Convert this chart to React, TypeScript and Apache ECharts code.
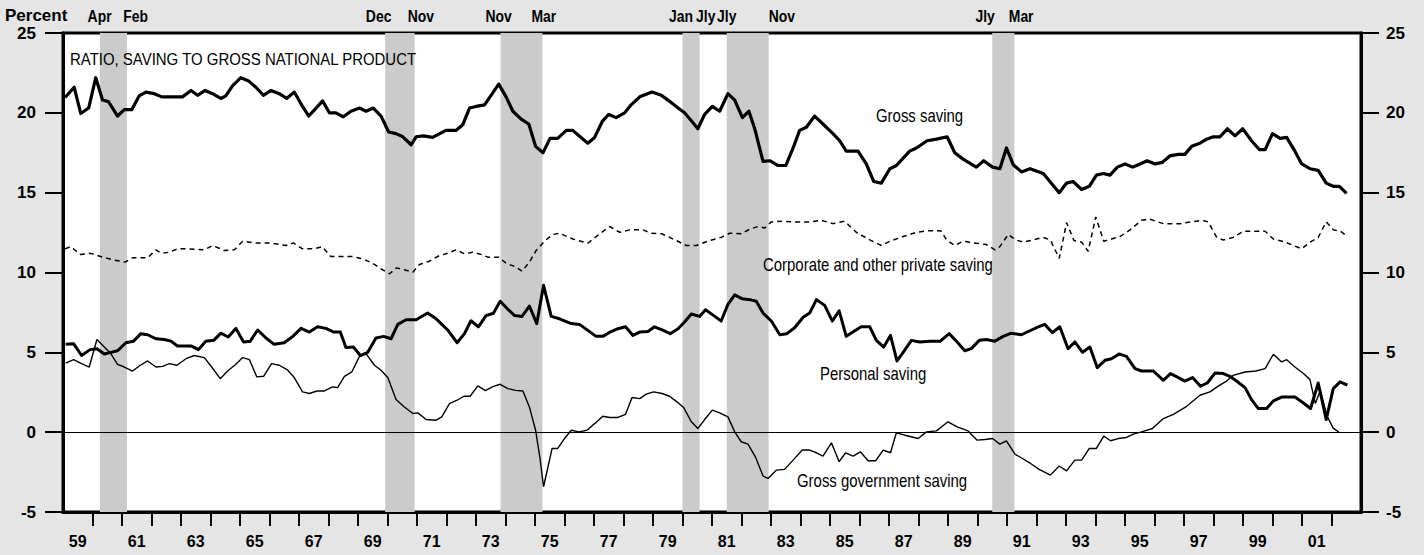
import React, { useEffect, useRef } from "react";
import * as echarts from "echarts";

// ---------- Data ----------
const grossYears = [1959.07,1959.38,1959.6,1959.87,1960.11,1960.34,1960.54,1960.85,1961.08,1961.33,1961.58,1961.81,1962.09,1962.35,1962.6,1963.05,1963.34,1963.56,1963.82,1964.07,1964.35,1964.52,1964.75,1965.03,1965.29,1965.54,1965.79,1966.05,1966.33,1966.58,1966.84,1967.12,1967.33,1967.58,1967.8,1968.03,1968.25,1968.5,1968.76,1969.05,1969.27,1969.52,1969.78,1970.04,1970.29,1970.52,1970.8,1970.97,1971.22,1971.53,1971.98,1972.32,1972.55,1972.78,1973.0,1973.29,1973.77,1974.02,1974.25,1974.53,1974.79,1975.02,1975.27,1975.51,1975.77,1976.06,1976.28,1976.53,1976.79,1977.02,1977.28,1977.5,1977.75,1978.04,1978.26,1978.55,1978.97,1979.28,1979.54,1979.85,1980.07,1980.3,1980.52,1980.75,1981.01,1981.26,1981.54,1981.77,1982.03,1982.25,1982.45,1982.73,1982.96,1983.24,1983.5,1983.75,1983.97,1984.2,1984.48,1984.76,1985.1,1985.33,1985.55,1985.95,1986.23,1986.48,1986.74,1987.03,1987.25,1987.7,1987.93,1988.29,1988.61,1988.97,1989.23,1989.51,1989.96,1990.21,1990.51,1990.76,1990.98,1991.21,1991.49,1991.78,1992.23,1992.77,1993.02,1993.24,1993.53,1993.79,1994.03,1994.26,1994.49,1994.74,1995.0,1995.26,1995.51,1995.75,1996.02,1996.27,1996.52,1996.81,1997.03,1997.26,1997.54,1997.77,1997.99,1998.22,1998.47,1998.73,1998.99,1999.29,1999.55,1999.75,2000.0,2000.26,2000.48,2000.76,2000.99,2001.27,2001.55,2001.82,2002.06,2002.27,2002.51];
const grossValues = [20.96,21.6,19.96,20.3,22.2,20.8,20.7,19.8,20.2,20.2,21.06,21.3,21.2,21.0,21.0,21.0,21.4,21.1,21.4,21.2,20.9,21.06,21.7,22.2,22.0,21.6,21.1,21.4,21.2,20.9,21.3,20.4,19.8,20.3,20.75,20.0,20.0,19.75,20.1,20.3,20.1,20.3,19.8,18.8,18.7,18.5,18.0,18.5,18.56,18.46,18.9,18.9,19.25,20.3,20.4,20.5,21.8,21.0,20.1,19.6,19.3,17.9,17.5,18.4,18.4,18.9,18.9,18.5,18.1,18.46,19.46,19.9,19.7,20.0,20.5,21.0,21.3,21.1,20.75,20.3,20.0,19.5,19.0,19.9,20.4,20.1,21.2,20.8,19.7,20.1,19.0,16.96,17.0,16.7,16.7,17.8,18.9,19.1,19.8,19.3,18.7,18.25,17.6,17.6,16.8,15.7,15.6,16.5,16.7,17.6,17.8,18.25,18.35,18.5,17.5,17.1,16.6,17.0,16.6,16.5,17.8,16.75,16.3,16.5,16.2,15.0,15.6,15.7,15.2,15.4,16.1,16.2,16.1,16.6,16.8,16.6,16.8,17.0,16.8,16.9,17.3,17.4,17.4,17.9,18.1,18.35,18.5,18.5,19.0,18.56,19.0,18.25,17.7,17.7,18.7,18.4,18.46,17.6,16.8,16.5,16.4,15.6,15.4,15.4,14.96];

const corpYears = [1959.07,1959.26,1959.6,1959.94,1960.34,1960.68,1961.11,1961.36,1961.87,1962.15,1962.35,1962.6,1962.88,1963.28,1963.79,1964.07,1964.47,1964.81,1965.09,1965.54,1966.0,1966.56,1966.81,1967.12,1967.52,1967.78,1968.08,1968.37,1968.82,1969.16,1969.5,1969.78,1970.07,1970.31,1970.57,1970.86,1971.08,1971.42,1971.76,1972.04,1972.32,1972.61,1972.89,1973.23,1973.4,1973.77,1974.02,1974.31,1974.56,1974.81,1975.04,1975.32,1975.6,1975.83,1976.28,1976.79,1977.19,1977.53,1977.87,1978.21,1978.66,1978.94,1979.31,1979.79,1980.13,1980.47,1980.92,1981.31,1981.6,1981.99,1982.3,1982.56,1982.79,1983.01,1983.41,1983.75,1984.31,1984.7,1985.1,1985.5,1985.89,1986.35,1986.74,1987.03,1987.48,1987.93,1988.38,1988.77,1988.95,1989.23,1989.51,1989.96,1990.3,1990.59,1990.76,1991.04,1991.3,1991.55,1991.89,1992.23,1992.47,1992.77,1993.02,1993.27,1993.53,1993.75,1994.01,1994.28,1994.54,1994.83,1995.17,1995.56,1995.85,1996.3,1996.86,1997.26,1997.6,1997.82,1998.11,1998.33,1998.67,1999.01,1999.75,2000.03,2000.43,2000.71,2000.99,2001.27,2001.55,2001.82,2002.06,2002.31,2002.51];
const corpValues = [11.48,11.62,11.12,11.2,10.96,10.8,10.65,10.92,10.92,11.42,11.2,11.27,11.48,11.48,11.42,11.69,11.38,11.42,11.96,11.85,11.85,11.69,11.85,11.48,11.48,11.62,11.0,11.0,11.0,10.85,10.58,10.23,9.92,10.29,10.17,10.02,10.5,10.71,11.06,11.2,11.42,11.17,11.27,11.1,10.96,10.96,10.58,10.38,10.08,10.65,11.38,11.96,12.38,12.46,12.1,11.83,12.42,12.88,12.52,12.67,12.67,12.46,12.42,12.0,11.69,11.69,12.0,12.2,12.46,12.42,12.73,12.88,12.79,13.17,13.21,13.17,13.17,13.27,13.06,13.21,12.52,12.04,11.69,11.96,12.25,12.52,12.62,12.6,12.04,11.69,11.96,11.83,11.75,11.42,11.62,12.38,12.04,11.9,12.04,12.2,12.04,10.88,13.12,12.0,11.9,11.33,13.48,11.96,12.1,12.25,12.67,13.27,13.33,13.06,13.06,13.17,13.27,13.17,12.2,12.04,12.2,12.58,12.58,12.1,11.9,11.69,11.48,11.9,12.2,13.17,12.67,12.58,12.31];

const personalYears = [1959.09,1959.36,1959.63,1959.92,1960.15,1960.4,1960.62,1960.85,1961.13,1961.39,1961.64,1961.87,1962.15,1962.43,1962.66,1962.88,1963.34,1963.59,1963.84,1964.11,1964.35,1964.6,1964.86,1965.12,1965.35,1965.6,1965.88,1966.16,1966.5,1966.79,1967.07,1967.35,1967.63,1967.91,1968.18,1968.4,1968.59,1968.85,1969.08,1969.33,1969.61,1969.87,1970.12,1970.35,1970.63,1970.97,1971.36,1971.65,1972.04,1972.36,1972.61,1972.83,1973.08,1973.34,1973.59,1973.82,1974.08,1974.31,1974.56,1974.81,1975.06,1975.29,1975.55,1975.83,1976.23,1976.51,1977.07,1977.3,1977.58,1977.81,1978.07,1978.32,1978.55,1978.83,1979.05,1979.31,1979.58,1979.85,1980.07,1980.3,1980.58,1980.78,1981.06,1981.31,1981.54,1981.77,1982.03,1982.28,1982.5,1982.73,1983.01,1983.3,1983.54,1983.8,1984.09,1984.31,1984.54,1984.82,1985.08,1985.31,1985.55,1985.8,1986.06,1986.35,1986.57,1986.82,1987.05,1987.27,1987.48,1987.76,1988.04,1988.38,1988.74,1989.04,1989.31,1989.57,1989.79,1990.06,1990.3,1990.59,1990.87,1991.15,1991.49,1991.83,1992.06,1992.28,1992.54,1992.79,1993.07,1993.3,1993.56,1993.81,1994.06,1994.32,1994.54,1994.8,1995.05,1995.34,1995.56,1995.96,1996.3,1996.54,1996.81,1997.03,1997.29,1997.56,1997.79,1998.05,1998.33,1998.56,1998.78,1999.07,1999.29,1999.52,1999.8,2000.03,2000.31,2000.76,2001.05,2001.29,2001.55,2001.82,2002.06,2002.29,2002.54];
const personalValues = [5.5,5.54,4.8,5.17,5.23,4.9,5.0,5.1,5.6,5.7,6.17,6.1,5.85,5.8,5.7,5.4,5.4,5.17,5.7,5.75,6.2,5.96,6.5,5.65,5.7,6.4,5.9,5.5,5.6,6.0,6.5,6.27,6.6,6.5,6.27,6.27,5.3,5.33,4.8,5.0,5.9,6.0,5.85,6.75,7.04,7.04,7.46,7.1,6.4,5.6,6.17,6.98,6.6,7.3,7.45,8.2,7.7,7.3,7.25,7.9,6.8,9.2,7.25,7.1,6.8,6.75,6.0,6.0,6.3,6.48,6.6,6.06,6.27,6.3,6.6,6.4,6.17,6.48,6.9,7.4,7.25,7.67,7.3,6.96,8.0,8.6,8.35,8.3,8.2,7.46,6.96,6.1,6.17,6.54,7.2,7.46,8.3,7.94,6.96,7.6,6.0,6.3,6.6,6.6,5.75,5.33,6.06,4.46,5.0,5.75,5.65,5.7,5.7,6.17,5.65,5.1,5.23,5.75,5.8,5.7,6.0,6.2,6.1,6.4,6.6,6.75,6.23,6.6,5.23,5.65,5.0,5.33,4.04,4.5,4.6,4.9,4.75,3.98,3.83,3.83,3.25,3.67,3.42,3.2,3.42,2.88,3.08,3.7,3.67,3.5,3.2,2.79,2.04,1.48,1.48,1.96,2.2,2.2,1.83,1.48,3.08,0.79,2.73,3.15,2.94];

const govYears = [1959.09,1959.36,1959.63,1959.89,1960.15,1960.4,1960.62,1960.85,1961.08,1961.36,1961.62,1961.87,1962.15,1962.38,1962.6,1962.86,1963.17,1963.45,1963.79,1964.04,1964.33,1964.58,1964.86,1965.09,1965.32,1965.57,1965.8,1966.07,1966.33,1966.62,1966.84,1967.12,1967.35,1967.61,1967.86,1968.14,1968.31,1968.54,1968.79,1969.05,1969.27,1969.56,1969.78,1970.01,1970.29,1970.57,1970.86,1971.03,1971.31,1971.65,1971.84,1972.1,1972.36,1972.59,1972.8,1973.06,1973.32,1973.57,1973.82,1974.08,1974.34,1974.59,1974.81,1975.02,1975.17,1975.29,1975.58,1975.77,1976.0,1976.23,1976.49,1976.76,1977.05,1977.3,1977.53,1977.81,1978.07,1978.29,1978.55,1978.77,1979.02,1979.31,1979.56,1979.81,1980.04,1980.3,1980.52,1980.75,1981.01,1981.26,1981.54,1981.77,1981.99,1982.22,1982.48,1982.73,1982.9,1983.18,1983.46,1983.75,1984.06,1984.31,1984.54,1984.76,1985.05,1985.31,1985.53,1985.78,1986.03,1986.29,1986.55,1986.8,1987.05,1987.25,1987.54,1987.99,1988.27,1988.61,1989.0,1989.31,1989.68,1989.99,1990.25,1990.51,1990.76,1990.98,1991.27,1991.52,1991.8,1992.09,1992.47,1992.77,1993.02,1993.3,1993.53,1993.79,1994.03,1994.28,1994.51,1994.77,1995.05,1995.28,1995.56,1995.93,1996.3,1996.64,1997.09,1997.54,1997.88,1998.16,1998.44,1998.67,1999.07,1999.44,1999.75,2000.03,2000.31,2000.48,2000.76,2001.05,2001.27,2001.45,2001.62,2001.85,2002.06,2002.25];
const govValues = [4.33,4.54,4.29,4.08,5.8,5.33,4.92,4.25,4.08,3.83,4.19,4.46,4.08,4.12,4.29,4.19,4.6,4.8,4.67,4.08,3.35,3.83,4.25,4.67,4.54,3.46,3.5,4.29,4.19,3.88,3.42,2.52,2.42,2.58,2.58,2.83,2.79,3.5,3.77,4.75,4.92,4.19,3.88,3.42,2.04,1.58,1.17,1.21,0.79,0.75,0.96,1.79,2.0,2.25,2.25,2.9,2.6,2.85,3.0,2.73,2.62,2.58,1.58,0.12,-1.65,-3.42,-1.02,-1.02,-0.4,0.12,0.02,0.12,0.58,1.0,0.92,0.92,1.12,2.17,2.1,2.38,2.52,2.42,2.25,1.9,1.54,0.65,0.23,0.79,1.38,1.21,0.96,0.02,-0.6,-0.75,-1.58,-2.75,-2.9,-2.38,-2.33,-1.75,-1.12,-1.12,-1.29,-1.5,-0.67,-1.85,-1.29,-1.5,-1.23,-1.79,-1.79,-1.12,-1.29,-0.04,-0.19,-0.4,0.02,0.08,0.65,0.33,0.08,-0.5,-0.46,-0.4,-0.75,-0.54,-1.38,-1.65,-1.96,-2.33,-2.69,-2.12,-2.42,-1.75,-1.75,-1.02,-1.02,-0.25,-0.54,-0.4,-0.33,-0.12,0.02,0.23,0.85,1.12,1.62,2.31,2.52,2.88,3.2,3.56,3.77,3.83,3.98,4.88,4.4,4.54,4.08,3.67,3.29,1.8,2.6,1.0,0.25,0.0];

// NBER recessions shaded on the chart (start, end as fractional years)
const recessionStarts = [1960.25, 1969.92, 1973.83, 1980.0, 1981.5, 1990.5];
const recessionEnds = [1961.17, 1970.92, 1975.25, 1980.58, 1982.92, 1991.25];
const recessionLabels = ["Apr", "Feb", "Dec", "Nov", "Nov", "Mar", "Jan", "Jly", "Jly", "Nov", "Jly", "Mar"];
const recessionLabelYears = [1960.24, 1961.46, 1969.7, 1971.13, 1973.77, 1975.3, 1979.95, 1980.79, 1981.5, 1983.37, 1990.26, 1991.48];

const yearTicks = [1960,1961,1962,1963,1964,1965,1966,1967,1968,1969,1970,1971,1972,1973,1974,1975,1976,1977,1978,1979,1980,1981,1982,1983,1984,1985,1986,1987,1988,1989,1990,1991,1992,1993,1994,1995,1996,1997,1998,1999,2000,2001,2002];
const yearLabelYears = [1959,1961,1963,1965,1967,1969,1971,1973,1975,1977,1979,1981,1983,1985,1987,1989,1991,1993,1995,1997,1999,2001];
const yTicks = [-5, 0, 5, 10, 15, 20, 25];

const pairs = (xs: number[], ys: number[]) => xs.map((x, i) => [x, ys[i]]);

const FONT = '"Liberation Sans", Arial, Helvetica, sans-serif';

export default function App() {
  const ref = useRef<HTMLDivElement>(null);

  useEffect(() => {
    if (!ref.current) return;
    const chart = echarts.init(ref.current, undefined, { renderer: "svg" });

    const yAxisBase = {
      type: "value",
      min: yTicks[0],
      max: yTicks[yTicks.length - 1],
      interval: 5,
      axisLine: { show: true, lineStyle: { color: "#000", width: 3 } },
      axisTick: { show: true, inside: false, length: 18, lineStyle: { color: "#000", width: 2 } },
      splitLine: { show: false },
    };

    const option: any = {
      animation: false,
      backgroundColor: "transparent",
      grid: {
        left: 63,
        right: 63,
        top: 33,
        bottom: 43,
        show: true,
        backgroundColor: "#ffffff",
        borderColor: "#000",
        borderWidth: 3,
      },
      xAxis: {
        type: "value",
        min: 1959,
        max: 2003,
        interval: 1,
        axisLine: { show: true, onZero: false, lineStyle: { color: "#000", width: 3 } },
        axisTick: {
          show: true,
          inside: false,
          length: 14,
          customValues: yearTicks,
          lineStyle: { color: "#000", width: 2 },
        },
        axisLabel: {
          customValues: yearLabelYears.map((y) => y + 0.5),
          formatter: (v: number) => String(Math.floor(v) % 100).padStart(2, "0"),
          color: "#000",
          fontSize: 16,
          fontWeight: "bold",
          fontFamily: FONT,
          margin: 21,
        },
        splitLine: { show: false },
      },
      yAxis: [
        {
          ...yAxisBase,
          position: "left",
          axisLabel: { color: "#000", fontSize: 17, fontWeight: "bold", fontFamily: FONT, margin: 27 },
        },
        {
          ...yAxisBase,
          position: "right",
          axisLabel: { color: "#000", fontSize: 17, fontWeight: "bold", fontFamily: FONT, margin: 25 },
        },
      ],
      series: [
        {
          name: "reference",
          type: "line",
          data: [],
          silent: true,
          z: 1,
          markArea: {
            silent: true,
            itemStyle: { color: "#cbcbcb" },
            data: recessionStarts.map((s, i) => [{ xAxis: s }, { xAxis: recessionEnds[i] }]),
          },
          markLine: {
            silent: true,
            symbol: "none",
            label: { show: false },
            lineStyle: { color: "#000", width: 1, type: "solid" },
            data: [{ yAxis: 0 }],
          },
        },
        {
          name: "Corporate and other private saving",
          type: "line",
          data: pairs(corpYears, corpValues),
          showSymbol: false,
          symbol: "none",
          z: 3,
          lineStyle: { color: "#000", width: 1.5, type: [5, 4] },
        },
        {
          name: "Gross government saving",
          type: "line",
          data: pairs(govYears, govValues),
          showSymbol: false,
          symbol: "none",
          z: 3,
          lineStyle: { color: "#000", width: 1.4 },
        },
        {
          name: "Personal saving",
          type: "line",
          data: pairs(personalYears, personalValues),
          showSymbol: false,
          symbol: "none",
          z: 4,
          lineStyle: { color: "#000", width: 3, join: "round" },
        },
        {
          name: "Gross saving",
          type: "line",
          data: pairs(grossYears, grossValues),
          showSymbol: false,
          symbol: "none",
          z: 4,
          lineStyle: { color: "#000", width: 3.2, join: "round" },
        },
      ],
    };

    chart.setOption(option);

    const annot = (text: string, x: number, y: number, size: number, sx: number, weight = "normal", align = "left") => ({
      type: "text",
      x,
      y,
      scaleX: sx,
      z: 100,
      style: {
        text,
        fill: "#000",
        font: `${weight} ${size}px ${FONT}`,
        align,
        verticalAlign: "middle",
      },
    });

    const monthGraphics = recessionLabels.map((t, i) => {
      const px = chart.convertToPixel({ xAxisIndex: 0 }, recessionLabelYears[i]) as number;
      return annot(t, px, 16, 17, 0.82, "bold", "center");
    });

    chart.setOption({
      graphic: [
        annot("Percent", 5, 15, 17, 1, "bold"),
        annot("RATIO, SAVING TO GROSS NATIONAL PRODUCT", 70, 59, 17, 0.88),
        annot("Gross saving", 876, 116, 18, 0.83),
        annot("Corporate and other private saving", 763, 265, 18, 0.83),
        annot("Personal saving", 820, 374, 18, 0.83),
        annot("Gross government saving", 797, 481, 18, 0.83),
        ...monthGraphics,
      ],
    });

    return () => chart.dispose();
  }, []);

  return (
    <div
      ref={ref}
      style={{ position: "absolute", left: 0, top: 0, width: 1424, height: 555, background: "#e5e5e5" }}
    />
  );
}
